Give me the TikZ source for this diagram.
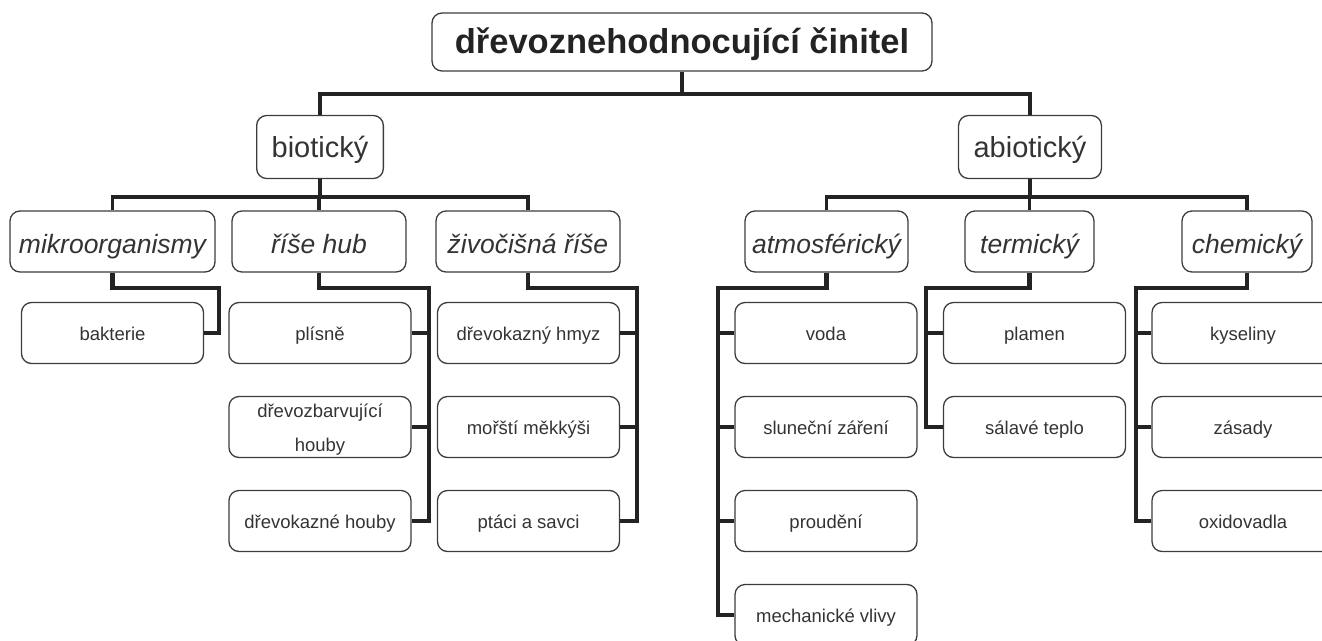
\documentclass[tikz,border=0pt]{standalone}
\usepackage{fontspec}
\setmainfont{Liberation Sans}
\definecolor{ramec}{HTML}{3C3C3C}
\definecolor{cara}{HTML}{232323}
\definecolor{pismo}{HTML}{333333}
\tikzset{
  box/.style = {draw=ramec, line width=1.3pt, rounded corners=10pt,
    align=center, text=pismo, inner sep=0pt},
  hlavni/.style = {box, minimum width=500pt, minimum height=58pt, text=cara,
    text height=25pt, text depth=3pt,
    font=\fontsize{34.5}{38}\selectfont\bfseries},% koren stromu
  skupina/.style = {box, minimum height=63pt, inner xsep=15pt,
    text height=22pt, text depth=2pt,
    font=\fontsize{29}{32}\selectfont},% biotický / abiotický
  druh/.style = {box, minimum height=61pt, text height=26pt, text depth=3pt,
    font=\fontsize{26.5}{30}\selectfont\itshape},% druhy cinitelu
  polozka/.style = {box, minimum width=182pt, minimum height=61pt,
    text height=15pt, text depth=1pt,
    font=\fontsize{18.5}{34}\selectfont},% listy
  kmen/.style = {draw=cara, line width=3.5pt},% horni spoje
  vetev/.style = {draw=cara, line width=4.5pt}% spoje k listum
}

\begin{document}
\begin{tikzpicture}[x=1pt, y=-1pt]
\useasboundingbox (0,0) rectangle (1322,640);
\clip (0,0) rectangle (1322,640);
% uzly
\node [hlavni] (cinitel) at (682,42) {dřevoznehodnocující činitel};
\node [skupina] (biot) at (320,147) {biotický};
\node [skupina] (abiot) at (1030,147) {abiotický};
\node [druh, minimum width=205pt] (mikro) at (112.5,241.5) {mikroorganismy};
\node [druh, minimum width=174pt] (hub) at (319,241.5) {říše hub};
\node [druh, minimum width=184pt] (ziv) at (528,241.5) {živočišná říše};
\node [druh, minimum width=163pt] (atmo) at (826.5,241.5) {atmosférický};
\node [druh, minimum width=129pt] (term) at (1029.5,241.5) {termický};
\node [druh, minimum width=130pt] (chem) at (1247,241.5) {chemický};
\node [polozka] (bakt) at (112.5,333) {bakterie};
\node [polozka] (plis) at (320,333) {plísně};
\node [polozka, text height=49pt] (zbarv) at (320,427) {dřevozbarvující\\houby};
\node [polozka] (kaz) at (320,521) {dřevokazné houby};
\node [polozka] (hmyz) at (528.5,333) {dřevokazný hmyz};
\node [polozka] (mekk) at (528.5,427) {mořští měkkýši};
\node [polozka] (ptaci) at (528.5,521) {ptáci a savci};
\node [polozka] (voda) at (826,333) {voda};
\node [polozka] (zar) at (826,427) {sluneční záření};
\node [polozka] (proud) at (826,521) {proudění};
\node [polozka] (mech) at (826,615) {mechanické vlivy};
\node [polozka] (plam) at (1034.5,333) {plamen};
\node [polozka] (sal) at (1034.5,427) {sálavé teplo};
\node [polozka] (kys) at (1243,333) {kyseliny};
\node [polozka] (zas) at (1243,427) {zásady};
\node [polozka] (oxid) at (1243,521) {oxidovadla};
% rozvetveni
\coordinate (rozv) at (682,94);
\coordinate (rozvB) at (320,197);
\coordinate (rozvA) at (1030,197);
\coordinate (kmikro) at (219,288);
\coordinate (khub) at (429,288);
\coordinate (kziv) at (637,288);
\coordinate (katmo) at (718,288);
\coordinate (kterm) at (926,288);
\coordinate (kchem) at (1136,288);
% horni spoje
\draw [kmen] (cinitel.south) -- (rozv);
\draw [kmen] (biot.north) |- (rozv) -| (abiot.north);
\draw [kmen] (biot.south) -- (rozvB);
\draw [kmen] (mikro.north) |- (rozvB) -| (ziv.north);
\draw [kmen] (hub.north) -- (hub.north |- rozvB);
\draw [kmen] (abiot.south) -- (rozvA);
\draw [kmen] (atmo.north) |- (rozvA) -| (chem.north);
\draw [kmen] (term.north) -- (term.north |- rozvA);
% spoje k listum
\draw [vetev] (mikro.south) |- (kmikro) -- (kmikro |- bakt.east) -- (bakt.east);
\draw [vetev] (hub.south) |- (khub) -- (khub |- kaz.east) -- (kaz.east);
\foreach \l in {plis,zbarv}
  \draw [vetev] (\l.east) -- (\l.east -| khub);
\draw [vetev] (ziv.south) |- (kziv) -- (kziv |- ptaci.east) -- (ptaci.east);
\foreach \l in {hmyz,mekk}
  \draw [vetev] (\l.east) -- (\l.east -| kziv);
\draw [vetev] (atmo.south) |- (katmo) -- (katmo |- mech.west) -- (mech.west);
\foreach \l in {voda,zar,proud}
  \draw [vetev] (\l.west) -- (\l.west -| katmo);
\draw [vetev] (term.south) |- (kterm) -- (kterm |- sal.west) -- (sal.west);
\draw [vetev] (plam.west) -- (plam.west -| kterm);
\draw [vetev] (chem.south) |- (kchem) -- (kchem |- oxid.west) -- (oxid.west);
\foreach \l in {kys,zas}
  \draw [vetev] (\l.west) -- (\l.west -| kchem);
\end{tikzpicture}
\end{document}
